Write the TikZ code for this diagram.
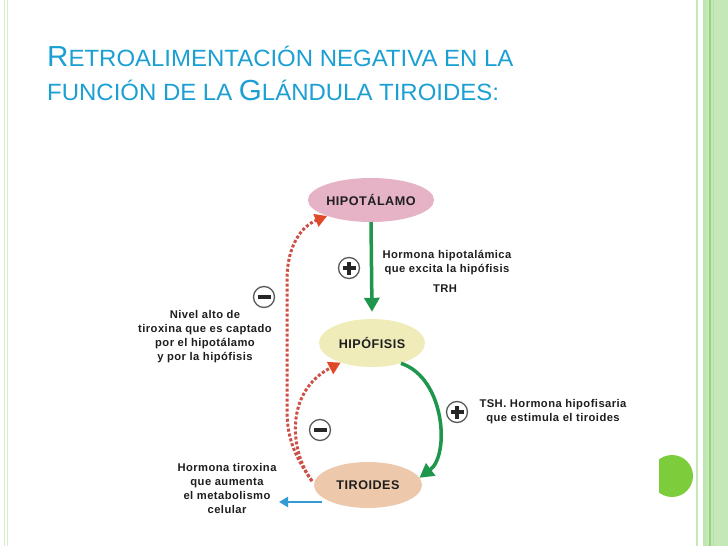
\documentclass[tikz,border=0pt]{standalone}
\usepackage{fontspec}
\usepackage{graphicx}
\setmainfont{Liberation Sans}
\newfontfamily\lblfont[LetterSpace=4]{Liberation Sans}
\usetikzlibrary{shapes.geometric,arrows.meta}
\definecolor{titleblue}{RGB}{28,160,212}
\definecolor{bordergreen}{RGB}{196,232,184}
\definecolor{borderdark}{RGB}{150,210,130}
\definecolor{dotgreen}{RGB}{124,204,60}
\definecolor{arrowgreen}{RGB}{30,150,75}
\definecolor{fbred}{RGB}{205,80,72}
\definecolor{fbtip}{RGB}{225,72,40}
\definecolor{tirblue}{RGB}{50,155,210}
\definecolor{pinkfill}{RGB}{230,178,198}
\definecolor{yellowfill}{RGB}{240,236,186}
\definecolor{peachfill}{RGB}{238,200,170}
\definecolor{txt}{RGB}{30,30,30}
\begin{document}
\begin{tikzpicture}[x=1pt,y=-1pt,
  gland/.style={ellipse, inner sep=0pt, text=txt, font=\lblfont\bfseries\fontsize{12.6}{14}\selectfont},
  lbl/.style={align=center, inner sep=0pt, text=txt, font=\lblfont\bfseries\fontsize{11.2}{14}\selectfont},
  signcirc/.style={circle, draw=black!65, line width=1.3pt, fill=white, minimum size=21pt, inner sep=0pt},
  gline/.style={draw=arrowgreen, line width=3.5pt, -{Triangle[length=14pt,width=15pt]}},
  fbline/.style={draw=fbred, line width=3pt, dash pattern=on 3pt off 2pt, -{Triangle[length=12pt,width=13pt,color=fbtip]}},
  bline/.style={draw=tirblue, line width=2.2pt, -{Triangle[length=9pt,width=10pt]}}
]
\path[use as bounding box, fill=white] (0,0) rectangle (728,546);
% borders
\fill[bordergreen!70] (3.5,0) rectangle (5,546);
\fill[bordergreen!70] (6.5,0) rectangle (8,546);
\fill[bordergreen] (696,0) rectangle (698,546);
\fill[bordergreen] (703,0) rectangle (728,546);
\fill[borderdark!60] (703,0) rectangle (706,546);
\fill[borderdark] (709,0) rectangle (710.5,546);
\fill[borderdark!70] (712.5,0) rectangle (713.5,546);
% green half dot
\begin{scope}
\clip (659,440) rectangle (700,510);
\fill[dotgreen] (672,476) circle (21);
\end{scope}
% title
\node[anchor=base west, inner sep=0pt, text=titleblue] (t1) at (47,66)
  {\scalebox{1.02}[1]{\fontsize{29}{29}\selectfont R\fontsize{23.5}{23.5}\selectfont ETROALIMENTACIÓN NEGATIVA EN LA}};
\node[anchor=base west, inner sep=0pt, text=titleblue] (t2) at (47,100)
  {\scalebox{1.02}[1]{\fontsize{23.5}{23.5}\selectfont FUNCIÓN DE LA \fontsize{29}{29}\selectfont G\fontsize{23.5}{23.5}\selectfont LÁNDULA TIROIDES:}};
% glands
\node[gland, fill=pinkfill, minimum width=102pt, minimum height=44pt] (hipo) at (371,200) {HIPOTÁLAMO};
\node[gland, fill=yellowfill, minimum width=106pt, minimum height=48pt] (hipof) at (372,343) {HIPÓFISIS};
\node[gland, fill=peachfill, minimum width=108pt, minimum height=46pt] (tir) at (368,485) {TIROIDES};
% labels
\node[lbl] (l1) at (447,263) {Hormona hipotalámica\\que excita la hipófisis};
\node[lbl] (trh) at (445,289) {TRH};
\node[lbl] (l2) at (553,412) {TSH. Hormona hipofisaria\\que estimula el tiroides};
\node[lbl] (l3) at (205,337) {Nivel alto de\\tiroxina que es captado\\por el hipotálamo\\y por la hipófisis};
\node[lbl] (l4) at (227,488) {Hormona tiroxina\\que aumenta\\el metabolismo\\celular};
% sign circles
\node[signcirc] (p1) at (349,268) {};
\node[signcirc] (p2) at (457,412) {};
\node[signcirc] (m1) at (264,297) {};
\node[signcirc] (m2) at (320,430) {};
\foreach \c in {p1,p2,m1,m2}{
  \draw[black!85, line width=3.2pt] ([xshift=-6.5pt]\c.center) -- ([xshift=6.5pt]\c.center);
}
\foreach \c in {p1,p2}{
  \draw[black!85, line width=3.2pt] ([yshift=-6.5pt]\c.center) -- ([yshift=6.5pt]\c.center);
}
% connectors
\coordinate (fbstart) at (312,481);
\coordinate (tirout) at (322,502);
\coordinate (tirend) at (279,502);
\draw[gline] (hipo.south) -- ([yshift=7pt]hipof.north);
\draw[gline] (hipof.-35) .. controls (445,378) and (450,455) .. (tir.8);
\draw[fbline] (fbstart) .. controls (296,458) and (287,440) .. (287,410) -- (287,280) .. controls (287,245) and (302,226) .. (hipo.200);
\draw[fbline] (fbstart) .. controls (290,452) and (284,392) .. (hipof.212);
\draw[bline] (tirout) -- (tirend);
\end{tikzpicture}
\end{document}
